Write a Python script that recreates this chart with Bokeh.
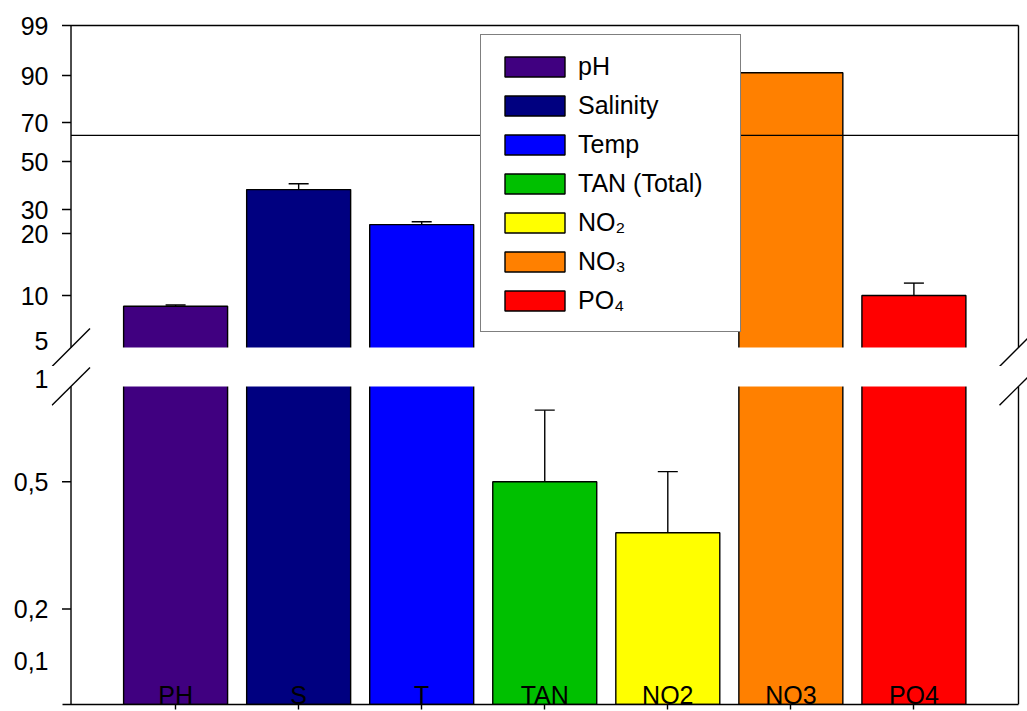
import numpy as np
from bokeh.plotting import figure
from bokeh.layouts import column
from bokeh.models import (ColumnDataSource, FixedTicker, Range1d, Legend, LegendItem,
                          Whisker, TeeHead)
from bokeh.embed import file_html
from bokeh.resources import INLINE

# ---- data -------------------------------------------------------------
categories = ["PH", "S", "T", "TAN", "NO2", "NO3", "PO4"]
legend_labels = ["pH", "Salinity", "Temp", "TAN (Total)", "NO₂", "NO₃", "PO₄"]
means = [8.8, 38.3, 23.7, 0.50, 0.38, 90.5, 10.0]
errors = [0.15, 2.4, 1.2, 0.35, 0.17, 0.0, 2.0]
colors = ["#400080", "#000080", "#0000FF", "#00C000", "#FFFF00", "#FF8000", "#FF0000"]
reference_level = 63.4

upper_ticks = [5, 10, 20, 30, 50, 70, 90, 99]
upper_tick_labels = ["5", "10", "20", "30", "50", "70", "90", "99"]
upper_tick_marks = [10, 20, 30, 50, 70, 90, 99]
lower_ticks = [0.1, 0.2, 0.5, 1]
lower_tick_labels = ["0,1", "0,2", "0,5", "1"]
lower_tick_marks = [0.2, 0.5]

# ---- broken, non-uniform value axis -----------------------------------
# each segment maps values onto its own axis length (1 unit = 1 px)
UPPER_SCALE = ([5, 10, 20, 30, 50, 70, 90, 99], [6, 51, 113, 137, 185, 224, 271, 321])
LOWER_SCALE = ([0, 0.1, 0.2, 0.5, 1], [0, 44, 96, 224, 327])
SPLIT = lower_ticks[-1]
UPPER_BREAK = -1      # where the upper segment is cut
LOWER_BREAK = 320     # where the lower segment is cut
GAP_PAD = 8           # bars run on into the masked gap


def upper_axis(v):
    return np.interp(v, *UPPER_SCALE)


def lower_axis(v):
    return np.interp(v, *LOWER_SCALE)


FONT = "Liberation Sans"
FONT_SIZE = "25px"
LW = 1.4
PX = 123.0                      # px per category
BAR_WIDTH = 0.845
TICK = 9 / PX                   # tick length in category units
n = len(categories)
x = np.arange(1, n + 1)
means_a = np.array(means, dtype=float)
errors_a = np.array(errors, dtype=float)

box_lo, box_hi = 1 - 0.85, n + 0.85          # plot box edges (category units)
x_range = Range1d(box_lo - 19.5 / PX, box_hi + 9 / PX)
MARK = 19                                    # half size of break marks, px


def value_axis(p, ticks, labels, marked, scale, bounds):
    pos = [int(round(float(scale(t)))) for t in ticks]
    ax = p.left[0]
    ax.ticker = FixedTicker(ticks=pos)
    ax.major_label_overrides = {q: l for q, l in zip(pos, labels)}
    ax.axis_line_color = None
    ax.major_tick_line_color = None
    ax.minor_tick_line_color = None
    ax.major_tick_out = 0
    ax.major_tick_in = 0
    ax.major_label_standoff = 3
    ax.major_label_text_font = FONT
    ax.major_label_text_font_size = FONT_SIZE
    ax.major_label_text_color = "black"
    # axis rule and tick marks at the plot box edge
    mk = [float(scale(t)) for t in marked]
    p.segment(x0=[box_lo] + [box_lo - TICK] * len(mk), y0=[bounds[0]] + mk,
              x1=[box_lo] * (len(mk) + 1), y1=[bounds[1]] + mk,
              line_color="black", line_width=LW)


def break_marks(p, yc):
    d = MARK / PX
    p.segment(x0=[box_lo - d, box_hi - d], y0=[yc - MARK] * 2,
              x1=[box_lo + d, box_hi + d], y1=[yc + MARK] * 2,
              line_color="black", line_width=LW)


def gap_mask(p, bottom, top):
    p.quad(left=box_lo + 0.01, right=box_hi - 0.01, bottom=bottom, top=top,
           fill_color="white", line_color=None)


def error_bars(p, mask, scale):
    src = ColumnDataSource(dict(base=x[mask], lower=scale(means_a[mask]),
                                upper=scale(means_a[mask] + errors_a[mask])))
    p.add_layout(Whisker(base="base", lower="lower", upper="upper", source=src,
                         line_color="black", line_width=LW, lower_head=None,
                         upper_head=TeeHead(size=20, line_color="black", line_width=LW)))


# ---- upper segment ----------------------------------------------------
up_top = UPPER_SCALE[1][-1]
p1 = figure(width=1027, height=366, x_range=x_range, y_range=Range1d(-20, up_top + 2),
            output_backend="svg", toolbar_location=None, title=None,
            x_axis_location=None, min_border_left=51, min_border_right=0,
            min_border_top=23, min_border_bottom=0)
p1.grid.visible = False
p1.outline_line_color = None

upper_top = np.where(means_a > SPLIT, upper_axis(means_a), np.nan)
src_up = ColumnDataSource(dict(x=x, top=upper_top, color=colors))
r_up = p1.vbar(x="x", top="top", bottom=UPPER_BREAK - GAP_PAD, width=BAR_WIDTH,
               source=src_up, fill_color="color", line_color="black", line_width=LW)
gap_mask(p1, p1.y_range.start, UPPER_BREAK)

value_axis(p1, upper_ticks, upper_tick_labels, upper_tick_marks, upper_axis,
           (UPPER_BREAK, up_top))

# reference level and plot box borders
ref_u = float(upper_axis(reference_level))
p1.segment(x0=[box_lo, box_lo, box_hi], y0=[ref_u, up_top, UPPER_BREAK],
           x1=[box_hi, box_hi, box_hi], y1=[ref_u, up_top, up_top],
           line_color="black", line_width=LW)
break_marks(p1, UPPER_BREAK)
error_bars(p1, (means_a > SPLIT) & (errors_a > 0), upper_axis)

items = [LegendItem(label=legend_labels[i], renderers=[r_up], index=i) for i in range(n)]
legend = Legend(items=items, location=(429, 34), glyph_width=75, glyph_height=25,
                label_width=146, label_height=30, label_standoff=6, spacing=9,
                padding=16, margin=0, border_line_color="black", border_line_width=LW,
                background_fill_color="white", background_fill_alpha=1,
                label_text_font=FONT, label_text_font_size=FONT_SIZE,
                label_text_color="black")
p1.add_layout(legend)

# ---- lower segment ----------------------------------------------------
p2 = figure(width=1027, height=345, x_range=x_range, y_range=Range1d(0, 340),
            output_backend="svg", toolbar_location=None, title=None,
            min_border_left=51, min_border_right=0, min_border_top=0,
            min_border_bottom=5)
p2.grid.visible = False
p2.outline_line_color = None

xa = p2.below[0]
xa.ticker = FixedTicker(ticks=list(range(1, n + 1)))
xa.major_label_overrides = {i + 1: c for i, c in enumerate(categories)}
xa.bounds = (box_lo - TICK, box_hi)
xa.minor_tick_line_color = None
xa.major_tick_out = 5
xa.major_tick_in = 0
xa.major_label_standoff = -29
xa.major_label_text_font = FONT
xa.major_label_text_font_size = FONT_SIZE
xa.major_label_text_color = "black"
xa.axis_line_width = LW
xa.major_tick_line_width = LW
xa.axis_line_color = "black"
xa.major_tick_line_color = "black"

lower_top = np.where(means_a > SPLIT, LOWER_BREAK + GAP_PAD, lower_axis(means_a))
src_low = ColumnDataSource(dict(x=x, top=lower_top, color=colors))
p2.vbar(x="x", top="top", bottom=0, width=BAR_WIDTH, source=src_low,
        fill_color="color", line_color="black", line_width=LW)
gap_mask(p2, LOWER_BREAK, p2.y_range.end)

value_axis(p2, lower_ticks, lower_tick_labels, lower_tick_marks, lower_axis,
           (0, LOWER_BREAK))
p2.segment(x0=[box_hi], y0=[0], x1=[box_hi], y1=[LOWER_BREAK],
           line_color="black", line_width=LW)
break_marks(p2, LOWER_BREAK)
error_bars(p2, (means_a <= SPLIT) & (errors_a > 0), lower_axis)

layout = column(p1, p2, spacing=0)
open("out.html", "w").write(file_html(layout, INLINE))
